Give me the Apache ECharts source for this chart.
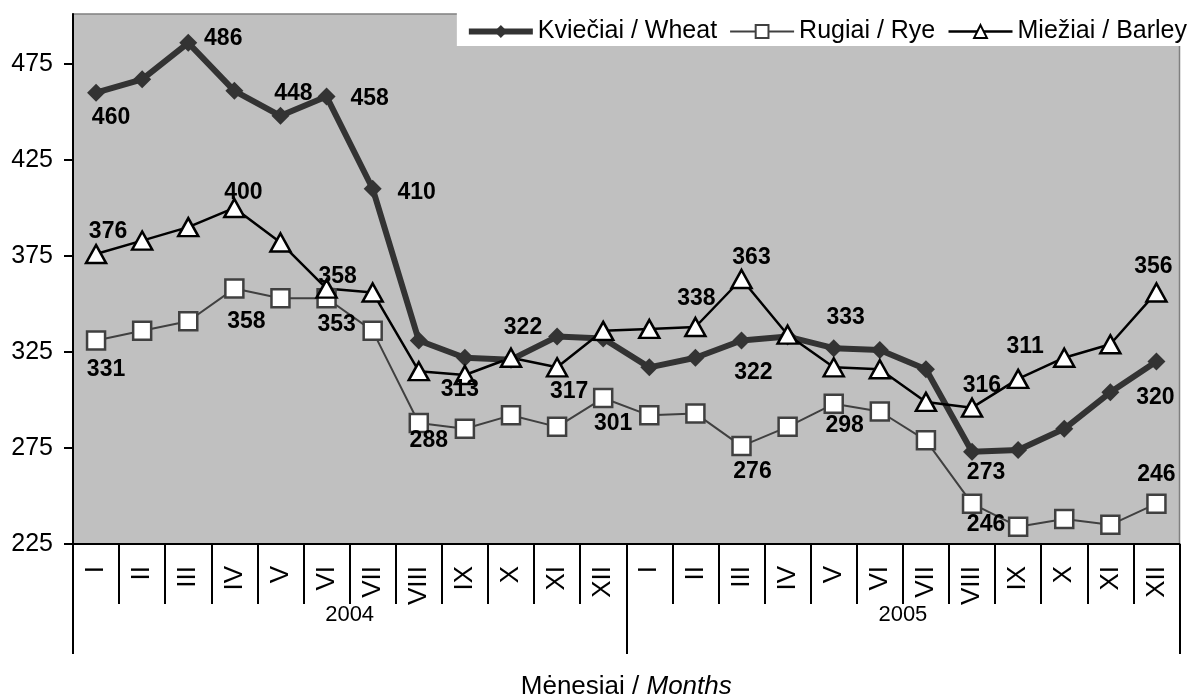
<!DOCTYPE html>
<html>
<head>
<meta charset="utf-8">
<script src="https://cdn.jsdelivr.net/npm/echarts@6/dist/echarts.min.js"></script>
<style>
  html, body { margin: 0; padding: 0; background: #fff; }
  #myCharts { width: 1193px; height: 699px; }
</style>
</head>
<body>
<div id="myCharts"></div>
<script>
const months = ['I', 'II', 'III', 'IV', 'V', 'VI', 'VII', 'VIII', 'IX', 'X', 'XI', 'XII',
  'I', 'II', 'III', 'IV', 'V', 'VI', 'VII', 'VIII', 'IX', 'X', 'XI', 'XII']
const years = ['2004', '2005']
const yTicks = [225, 275, 325, 375, 425, 475]

const wheat = [460, 467, 486, 461, 448, 458, 410, 331, 322, 321, 333, 332,
  317, 322, 331, 333, 327, 326, 316, 273, 274, 285, 304, 320]
const rye = [331, 336, 341, 358, 353, 353, 336, 288, 285, 292, 286, 301,
  292, 293, 276, 286, 298, 294, 279, 246, 234, 238, 235, 246]
const barley = [376, 383, 390, 400, 382, 358, 356, 315, 313, 322, 317, 336,
  337, 338, 363, 334, 317, 316, 299, 296, 311, 322, 329, 356]

// which points carry a value label
const wheatLabelled = [0, 2, 4, 5, 6, 13, 15, 18, 19, 23]
const ryeLabelled = [0, 3, 5, 7, 11, 14, 16, 19, 23]
const barleyLabelled = [0, 3, 5, 8, 9, 10, 13, 14, 20, 23]

// label placement (offset of label centre from the point), style only
const labelOffsets = {
  wheat: { 0: [15, 25], 2: [35, -4], 4: [13, -22], 5: [43, 2], 6: [44, 4],
    13: [58, 15], 15: [58, -19], 18: [56, 16], 19: [14, 21], 23: [-1, 36] },
  rye: { 0: [10, 29], 3: [12, 33], 5: [10, 26], 7: [10, 18], 11: [10, 26],
    14: [11, 26], 16: [11, 22], 19: [14, 21], 23: [0, -29] },
  barley: { 0: [12, -22], 3: [9, -15], 5: [11, -12], 8: [-5, 15], 9: [12, -30],
    10: [12, 24], 13: [1, -28], 14: [10, -21], 20: [7, -32], 23: [-3, -26] }
}

const font = "'Liberation Sans', Arial, sans-serif"

function withLabels(values, labelled, offsets) {
  return values.map((v, i) => {
    if (labelled.indexOf(i) < 0) return v
    return {
      value: v,
      label: {
        show: true,
        position: 'inside',
        offset: offsets[i],
        color: '#000',
        fontFamily: font,
        fontSize: 23,
        fontWeight: 'bold'
      }
    }
  })
}

const option = {
  animation: false,
  backgroundColor: '#fff',
  legend: {
    top: 5,
    right: 0,
    padding: [14, 6, 2, 9],
    backgroundColor: '#fff',
    itemWidth: 64,
    itemHeight: 16,
    itemGap: 12,
    textStyle: {
      fontFamily: font,
      fontSize: 25,
      color: '#000'
    },
    data: [
      { name: 'Kviečiai / Wheat', lineStyle: { width: 6 } },
      { name: 'Rugiai / Rye', lineStyle: { width: 2 } },
      { name: 'Miežiai / Barley', lineStyle: { width: 2.5 } }
    ]
  },
  grid: {
    left: 73,
    right: 13.5,
    top: 14,
    bottom: 155,
    outerBoundsMode: 'none',
    show: true,
    backgroundColor: '#c0c0c0',
    borderColor: '#808080',
    borderWidth: 1.5
  },
  xAxis: [
    {
      type: 'category',
      data: months,
      position: 'bottom',
      axisLine: {
        lineStyle: { color: '#000', width: 2 }
      },
      axisTick: {
        show: true,
        interval: 0,
        length: 60,
        lineStyle: { color: '#000', width: 2 }
      },
      axisLabel: {
        interval: 0,
        rotate: 90,
        margin: 22,
        color: '#000',
        fontFamily: font,
        fontSize: 26
      }
    },
    {
      type: 'category',
      data: years,
      position: 'bottom',
      axisLine: { show: false },
      axisTick: {
        show: true,
        interval: 0,
        length: 110,
        lineStyle: { color: '#000', width: 2 }
      },
      axisLabel: {
        interval: 0,
        margin: 60,
        color: '#000',
        fontFamily: font,
        fontSize: 22
      },
      name: '{a|Mėnesiai / }{b|Months}',
      nameLocation: 'middle',
      nameGap: 130,
      nameTextStyle: {
        rich: {
          a: { fontFamily: font, fontSize: 26, color: '#000' },
          b: { fontFamily: font, fontSize: 26, color: '#000', fontStyle: 'italic' }
        }
      }
    }
  ],
  yAxis: {
    type: 'value',
    min: 225,
    max: 501,
    interval: 50,
    splitLine: { show: false },
    axisLine: {
      show: true,
      lineStyle: { color: '#000', width: 2 }
    },
    axisTick: {
      show: true,
      length: 9,
      customValues: yTicks,
      lineStyle: { color: '#000', width: 2 }
    },
    axisLabel: {
      customValues: yTicks,
      margin: 20,
      color: '#000',
      fontFamily: font,
      fontSize: 25
    }
  },
  series: [
    {
      name: 'Kviečiai / Wheat',
      type: 'line',
      symbol: 'diamond',
      symbolSize: 18,
      lineStyle: { color: '#333333', width: 6 },
      itemStyle: { color: '#333333' },
      data: withLabels(wheat, wheatLabelled, labelOffsets.wheat)
    },
    {
      name: 'Rugiai / Rye',
      type: 'line',
      symbol: 'rect',
      symbolSize: 18,
      lineStyle: { color: '#404040', width: 2 },
      itemStyle: { color: '#ffffff', borderColor: '#404040', borderWidth: 2.5 },
      data: withLabels(rye, ryeLabelled, labelOffsets.rye)
    },
    {
      name: 'Miežiai / Barley',
      type: 'line',
      symbol: 'triangle',
      symbolSize: [20, 18],
      lineStyle: { color: '#000', width: 2.5 },
      itemStyle: { color: '#ffffff', borderColor: '#000', borderWidth: 2.5 },
      data: withLabels(barley, barleyLabelled, labelOffsets.barley)
    }
  ]
}

const myChart = echarts.init(document.getElementById('myCharts'))
myChart.setOption(option)
</script>
</body>
</html>
